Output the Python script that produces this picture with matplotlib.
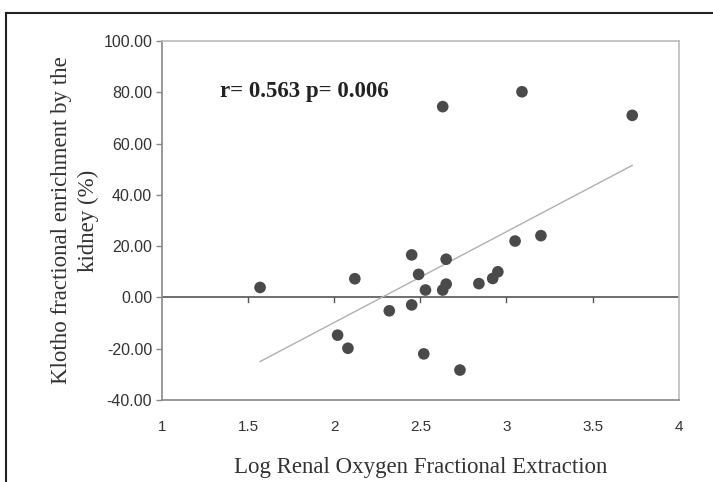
import numpy as np
import matplotlib
matplotlib.use("Agg")
import matplotlib.pyplot as plt
from matplotlib.lines import Line2D

# Data
log_ofe = [1.57, 2.12, 2.02, 2.08, 2.32, 2.45, 2.45, 2.49, 2.53, 2.52, 2.65,
           2.65, 2.63, 2.73, 2.84, 2.92, 2.95, 3.05, 3.20, 2.63, 3.09, 3.73]
klotho = [3.9, 7.3, -14.7, -19.8, -5.2, 16.6, -2.9, 9.0, 2.9, -22.0, 14.9,
          5.2, 2.9, -28.3, 5.4, 7.4, 10.0, 22.0, 24.1, 74.4, 80.2, 71.0]

# regression line end points as drawn in the figure
trend_x = [1.57, 3.73]
trend_y = [-25.0, 51.5]

x_ticks = [1, 1.5, 2, 2.5, 3, 3.5, 4]
y_ticks = [-40, -20, 0, 20, 40, 60, 80, 100]

plt.rcParams["font.family"] = ["Liberation Sans", "DejaVu Sans"]

fig = plt.figure(figsize=(7.13, 4.82), dpi=100)
ax = fig.add_axes([0.227, 0.170, 0.725, 0.745])

ax.plot(trend_x, trend_y, color="#b0b0b0", linewidth=1.0, zorder=2)
ax.scatter(log_ofe, klotho, s=70, color="#4a4a4a", edgecolors="none", zorder=3)

ax.set_xlim(1, 4)
ax.set_ylim(-40, 100)

# zero line acting as the x axis with its own tick marks
ax.axhline(0, color="#555555", linewidth=1.2, zorder=1)
for xt in x_ticks[1:-1]:
    ax.plot([xt, xt], [0, -1.8], color="#555555", linewidth=1.0, zorder=1,
            clip_on=False)

ax.set_xticks(x_ticks)
ax.set_xticklabels([f"{v:g}" for v in x_ticks])
ax.set_yticks(y_ticks)
ax.set_yticklabels([f"{v:.2f}" for v in y_ticks])
ax.tick_params(axis="x", length=0, pad=14, labelsize=11, colors="#333333")
ax.tick_params(axis="y", length=4, direction="out", width=1, color="#888888",
               labelsize=11.5, labelcolor="#333333", pad=3)

for side in ["left", "bottom"]:
    ax.spines[side].set_color("#888888")
    ax.spines[side].set_linewidth(1.2)
for side in ["top", "right"]:
    ax.spines[side].set_color("#bbbbbb")
    ax.spines[side].set_linewidth(1.2)

ax.set_xlabel("Log Renal Oxygen Fractional Extraction", family="Liberation Serif",
              fontsize=16.5, color="#333333", labelpad=17)
ax.set_ylabel("Klotho fractional enrichment by the\nkidney (%)",
              family="Liberation Serif", fontsize=16.5, color="#333333",
              labelpad=3, linespacing=1.35)

ax.text(0.113, 0.858, "r= 0.563 p= 0.006", transform=ax.transAxes,
        family="Liberation Serif", fontweight="bold", fontsize=16.5,
        color="#222222", va="center", ha="left")

# partial frame around the figure (top and left edges)
fig.add_artist(Line2D([0.0085, 1.0], [0.973, 0.973], transform=fig.transFigure,
                      color="#222222", linewidth=1.5))
fig.add_artist(Line2D([0.0085, 0.0085], [0.0, 0.973], transform=fig.transFigure,
                      color="#222222", linewidth=1.5))

fig.savefig("out.png", dpi=100)
